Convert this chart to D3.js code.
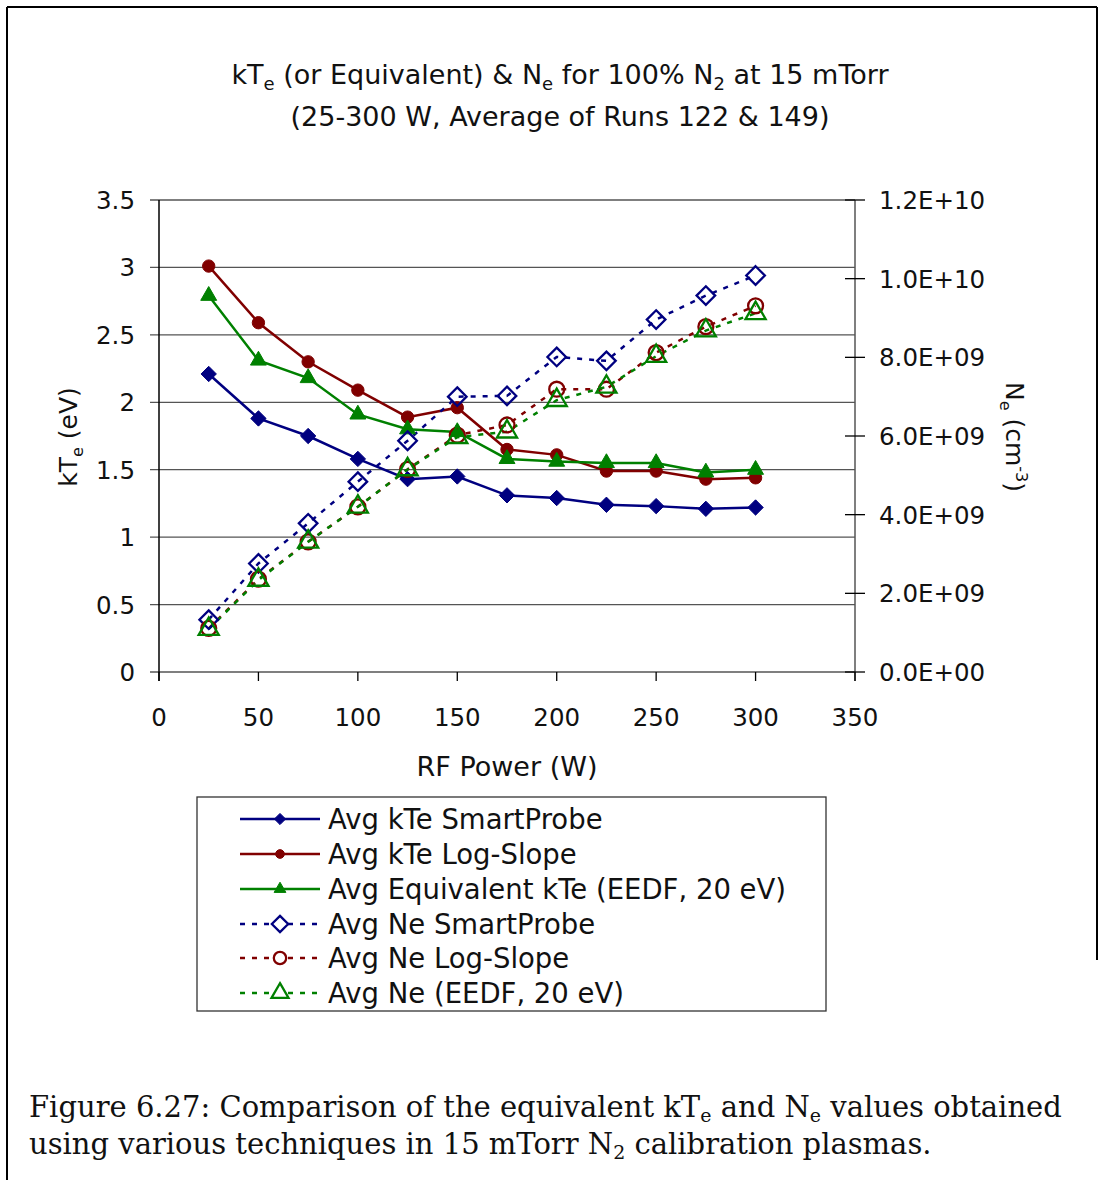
<!DOCTYPE html>
<html>
<head>
<meta charset="utf-8">
<script src="https://cdn.jsdelivr.net/npm/d3@7"></script>
<style>
  body { margin: 0; background: #fff; }
  svg text { font-family: "DejaVu Sans", Lato, sans-serif; fill: #111; }
</style>
</head>
<body>
<svg id="chart" width="1100" height="1180"></svg>
<script>
// ---- data ----
const power = [25, 50, 75, 100, 125, 150, 175, 200, 225, 250, 275, 300];
const kteSmart = [2.21, 1.88, 1.75, 1.58, 1.43, 1.45, 1.31, 1.29, 1.24, 1.23, 1.21, 1.22];
const kteLog = [3.01, 2.59, 2.30, 2.09, 1.89, 1.96, 1.65, 1.61, 1.49, 1.49, 1.43, 1.44];
const kteEedf = [2.79, 2.31, 2.18, 1.91, 1.80, 1.78, 1.58, 1.56, 1.55, 1.55, 1.48, 1.50];
const neSmart = [1.33e9, 2.76e9, 3.78e9, 4.84e9, 5.88e9, 7.00e9, 7.02e9, 8.01e9, 7.91e9, 8.96e9, 9.57e9, 10.08e9];
const neLog = [1.11e9, 2.36e9, 3.31e9, 4.20e9, 5.15e9, 6.02e9, 6.28e9, 7.19e9, 7.19e9, 8.12e9, 8.78e9, 9.31e9];
const neEedf = [1.09e9, 2.34e9, 3.31e9, 4.20e9, 5.15e9, 5.97e9, 6.11e9, 6.91e9, 7.25e9, 8.03e9, 8.68e9, 9.12e9];
const xTicks = [0, 50, 100, 150, 200, 250, 300, 350];
const yLeftTicks = [0, 0.5, 1, 1.5, 2, 2.5, 3, 3.5];
const yRightTicks = [0, 2e9, 4e9, 6e9, 8e9, 1e10, 1.2e10];
const seriesNames = ["Avg kTe SmartProbe", "Avg kTe Log-Slope", "Avg Equivalent kTe (EEDF, 20 eV)",
                     "Avg Ne SmartProbe", "Avg Ne Log-Slope", "Avg Ne (EEDF, 20 eV)"];

const svg = d3.select("#chart");
const L = 159, R = 855, T = 200, B = 672;
const x = d3.scaleLinear().domain([0, 350]).range([L, R]);
const yL = d3.scaleLinear().domain([0, 3.5]).range([B, T]);
const yR = d3.scaleLinear().domain([0, 1.2e10]).range([B, T]);

const NAVY = "#000080", RED = "#800000", GREEN = "#008000";
const DIAMOND = d3.symbolDiamond2 || d3.symbolDiamond;

// outer frame
svg.append("line").attr("x1", 7).attr("x2", 7).attr("y1", 7).attr("y2", 1180).attr("stroke", "#000").attr("stroke-width", 2);
svg.append("line").attr("x1", 7).attr("x2", 1097).attr("y1", 7).attr("y2", 7).attr("stroke", "#000").attr("stroke-width", 2);
svg.append("line").attr("x1", 1097).attr("x2", 1097).attr("y1", 7).attr("y2", 960).attr("stroke", "#000").attr("stroke-width", 2);

// title
const title = svg.append("text").attr("x", 560).attr("y", 84).attr("text-anchor", "middle").style("font-size", "27px");
title.append("tspan").text("kT");
title.append("tspan").text("e").attr("dy", 6).style("font-size", "18px");
title.append("tspan").text(" (or Equivalent) & N").attr("dy", -6);
title.append("tspan").text("e").attr("dy", 6).style("font-size", "18px");
title.append("tspan").text(" for 100% N").attr("dy", -6);
title.append("tspan").text("2").attr("dy", 6).style("font-size", "18px");
title.append("tspan").text(" at 15 mTorr").attr("dy", -6);
svg.append("text").attr("x", 560).attr("y", 126).attr("text-anchor", "middle").style("font-size", "27px")
  .text("(25-300 W, Average of Runs 122 & 149)");

// gridlines
svg.append("g").selectAll("line").data(yLeftTicks).join("line")
  .attr("x1", L - 9).attr("x2", R).attr("y1", d => yL(d)).attr("y2", d => yL(d))
  .attr("stroke", "#555").attr("stroke-width", 1.3);

// left axis line
svg.append("line").attr("x1", L).attr("x2", L).attr("y1", T).attr("y2", B + 9).attr("stroke", "#000").attr("stroke-width", 1.5);
// right axis
svg.append("line").attr("x1", R).attr("x2", R).attr("y1", T).attr("y2", B + 9).attr("stroke", "#555").attr("stroke-width", 1.5);

// x axis ticks
svg.append("g").selectAll("line").data(xTicks).join("line")
  .attr("x1", d => x(d)).attr("x2", d => x(d)).attr("y1", B).attr("y2", B + 9)
  .attr("stroke", "#000").attr("stroke-width", 1.3);
svg.append("g").selectAll("text").data(xTicks).join("text")
  .attr("x", d => x(d)).attr("y", 726).attr("text-anchor", "middle").style("font-size", "24.5px")
  .text(d => d);

// left tick labels
svg.append("g").selectAll("text").data(yLeftTicks).join("text")
  .attr("x", 135).attr("y", d => yL(d) + 9).attr("text-anchor", "end").style("font-size", "24.5px")
  .text(d => d);

// right ticks
svg.append("g").selectAll("line").data(yRightTicks).join("line")
  .attr("x1", R - 10).attr("x2", R + 10).attr("y1", d => yR(d)).attr("y2", d => yR(d))
  .attr("stroke", "#000").attr("stroke-width", 1.3);
const fmtE = d => {
  if (d === 0) return "0.0E+00";
  const e = Math.floor(Math.log10(d));
  const m = d / Math.pow(10, e);
  return m.toFixed(1) + "E+" + String(e).padStart(2, "0");
};
svg.append("g").selectAll("text").data(yRightTicks).join("text")
  .attr("x", 879).attr("y", d => yR(d) + 9).attr("text-anchor", "start").style("font-size", "24.5px")
  .text(fmtE);

// axis titles
const yt = svg.append("text").attr("transform", "translate(77,437) rotate(-90)").attr("text-anchor", "middle").style("font-size", "25px");
yt.append("tspan").text("kT");
yt.append("tspan").text("e").attr("dy", 6).style("font-size", "16px");
yt.append("tspan").text(" (eV)").attr("dy", -6);

svg.append("text").attr("x", 507).attr("y", 776).attr("text-anchor", "middle").style("font-size", "27px").text("RF Power (W)");

const rt = svg.append("text").attr("transform", "translate(1006,437) rotate(90)").attr("text-anchor", "middle").style("font-size", "25px");
rt.append("tspan").text("N");
rt.append("tspan").text("e").attr("dy", 6).style("font-size", "16px");
rt.append("tspan").text(" (cm").attr("dy", -6);
rt.append("tspan").text("-3").attr("dy", -10).style("font-size", "16px");
rt.append("tspan").text(")").attr("dy", 10);

// series definitions
const series = [
  { vals: kteSmart, y: yL, color: NAVY, dash: null, sym: DIAMOND, size: 150, fill: true, lsize: 80 },
  { vals: kteLog, y: yL, color: RED, dash: null, sym: d3.symbolCircle, size: 120, fill: true, lsize: 60 },
  { vals: kteEedf, y: yL, color: GREEN, dash: null, sym: d3.symbolTriangle, size: 110, fill: true, lsize: 60 },
  { vals: neSmart, y: yR, color: NAVY, dash: "5,7", sym: DIAMOND, size: 220, fill: false, lsize: 170 },
  { vals: neLog, y: yR, color: RED, dash: "5,7", sym: d3.symbolCircle, size: 175, fill: false, lsize: 120 },
  { vals: neEedf, y: yR, color: GREEN, dash: "5,7", sym: d3.symbolTriangle, size: 175, fill: false, lsize: 125 }
];

const plot = svg.append("g");
series.forEach(s => {
  const line = d3.line().x((d, i) => x(power[i])).y(d => s.y(d));
  plot.append("path").datum(s.vals).attr("d", line).attr("fill", "none")
    .attr("stroke", s.color).attr("stroke-width", 2.5)
    .attr("stroke-dasharray", s.dash);
});
series.forEach(s => {
  const sym = d3.symbol().type(s.sym).size(s.size);
  plot.append("g").selectAll("path").data(s.vals).join("path")
    .attr("transform", (d, i) => `translate(${x(power[i])},${s.y(d)})`)
    .attr("d", sym)
    .attr("fill", s.fill ? s.color : "none")
    .attr("stroke", s.color).attr("stroke-width", s.fill ? 1 : 2.3);
});

// legend
const lg = svg.append("g");
lg.append("rect").attr("x", 197).attr("y", 797).attr("width", 629).attr("height", 214)
  .attr("fill", "#fff").attr("stroke", "#333").attr("stroke-width", 1.3);
const legY = [819, 854, 889, 924, 958, 993];
series.forEach((s, i) => {
  const yy = legY[i];
  lg.append("line").attr("x1", 240).attr("x2", 320).attr("y1", yy).attr("y2", yy)
    .attr("stroke", s.color).attr("stroke-width", 2.5).attr("stroke-dasharray", s.dash);
  lg.append("path").attr("transform", `translate(280,${yy})`)
    .attr("d", d3.symbol().type(s.sym).size(s.lsize)())
    .attr("fill", s.fill ? s.color : "#fff").attr("stroke", s.color).attr("stroke-width", s.fill ? 1 : 2.3);
  lg.append("text").attr("x", 328).attr("y", yy + 10).style("font-size", "27.5px").text(seriesNames[i]);
});

// caption
const capFont = "'DejaVu Serif', 'Liberation Serif', serif";
const cap1 = svg.append("text").attr("x", 29).attr("y", 1117).style("font-family", capFont).style("font-size", "29px");
cap1.append("tspan").text("Figure 6.27: Comparison of the equivalent kT");
cap1.append("tspan").text("e").attr("dy", 5).style("font-size", "19px");
cap1.append("tspan").text(" and N").attr("dy", -5);
cap1.append("tspan").text("e").attr("dy", 5).style("font-size", "19px");
cap1.append("tspan").text(" values obtained").attr("dy", -5);
const cap2 = svg.append("text").attr("x", 29).attr("y", 1154).style("font-family", capFont).style("font-size", "29px");
cap2.append("tspan").text("using various techniques in 15 mTorr N");
cap2.append("tspan").text("2").attr("dy", 5).style("font-size", "19px");
cap2.append("tspan").text(" calibration plasmas.").attr("dy", -5);
</script>
</body>
</html>
